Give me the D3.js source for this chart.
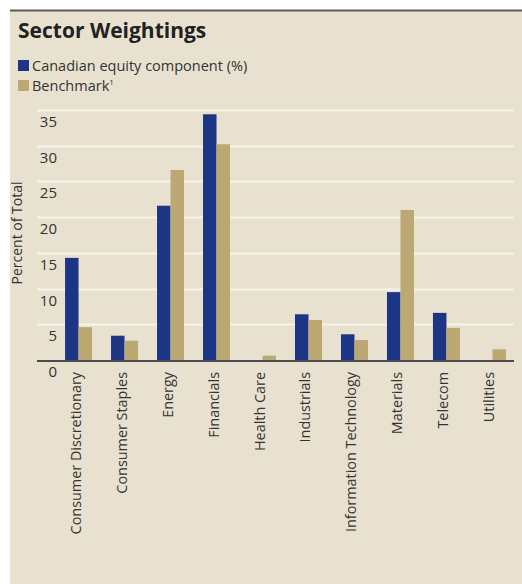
<!DOCTYPE html>
<html>
<head>
<meta charset="utf-8">
<script src="https://cdn.jsdelivr.net/npm/d3@7"></script>
<style>
  html, body { margin: 0; padding: 0; background: #ffffff; }
  svg { display: block; }
</style>
</head>
<body>
<svg id="chart" width="522" height="584"></svg>
<script>
// Sector weightings: fund vs benchmark, percent of total
const sectors = [
  "Consumer Discretionary", "Consumer Staples", "Energy", "Financials",
  "Health Care", "Industrials", "Information Technology", "Materials",
  "Telecom", "Utilities"
];
const canadianEquity = [14.3, 3.4, 21.6, 34.4, 0, 6.4, 3.6, 9.5, 6.6, 0];
const benchmark = [4.6, 2.7, 26.6, 30.2, 0.6, 5.6, 2.8, 21.0, 4.5, 1.5];
const yTicks = [0, 5, 10, 15, 20, 25, 30, 35];
const seriesNames = ["Canadian equity component (%)", "Benchmark"];
const seriesColors = ["#1c3584", "#bca873"];

const FONT = "'Open Sans', 'DejaVu Sans', sans-serif";
const TEXT = "#333333";

const svg = d3.select("#chart");

// panel background and top rule
svg.append("rect").attr("x", 10).attr("y", 10).attr("width", 512).attr("height", 574)
  .attr("fill", "#e8e1cf");
svg.append("rect").attr("x", 10).attr("y", 9.5).attr("width", 512).attr("height", 2)
  .attr("fill", "#5a5a5a");

// title
svg.append("text").attr("x", 18).attr("y", 38)
  .attr("font-family", FONT).attr("font-weight", 700).attr("font-size", 21)
  .attr("fill", "#222").text("Sector Weightings");

// legend
const legend = svg.append("g");
seriesNames.forEach((name, i) => {
  const gy = 60 + i * 20;
  legend.append("rect").attr("x", 18).attr("y", gy).attr("width", 11).attr("height", 11)
    .attr("fill", seriesColors[i]);
  const t = legend.append("text").attr("x", 32).attr("y", gy + 11)
    .attr("font-family", FONT).attr("font-size", 14.5).attr("fill", TEXT).text(name);
  if (i === 1) {
    t.append("tspan").attr("font-size", 8).attr("dy", -6).text("1");
  }
});

// scales
const plotLeft = 37, plotRight = 514;
const y = d3.scaleLinear().domain([0, 35]).range([360, 110]);
const x0 = d3.scaleBand().domain(sectors).range([37, 534])
  .paddingInner(0.413).paddingOuter(0.61);
const x1 = d3.scaleBand().domain([0, 1]).range([0, x0.bandwidth()]);

// gridlines
svg.append("g").selectAll("line").data(yTicks.filter(d => d > 0)).join("line")
  .attr("x1", plotLeft).attr("x2", plotRight)
  .attr("y1", d => Math.round(y(d)) + 0.5).attr("y2", d => Math.round(y(d)) + 0.5)
  .attr("stroke", "#f7f4ec").attr("stroke-width", 2);

// y tick labels sit just under their gridline
svg.append("g").selectAll("text").data(yTicks).join("text")
  .attr("x", 57).attr("y", d => y(d) + 17)
  .attr("text-anchor", "end")
  .attr("font-family", FONT).attr("font-size", 15).attr("fill", TEXT)
  .text(d => d);

// y axis title
svg.append("text")
  .attr("transform", "translate(22,233) rotate(-90)")
  .attr("text-anchor", "middle")
  .attr("font-family", FONT).attr("font-size", 14).attr("fill", TEXT)
  .text("Percent of Total");

// bars
const series = [canadianEquity, benchmark];
const groups = svg.append("g").selectAll("g").data(sectors).join("g")
  .attr("transform", d => `translate(${x0(d)},0)`);
groups.selectAll("rect")
  .data((d, i) => series.map((s, k) => ({ k, v: s[i] })))
  .join("rect")
  .attr("x", d => x1(d.k))
  .attr("width", x1.bandwidth())
  .attr("y", d => y(d.v))
  .attr("height", d => y(0) - y(d.v))
  .attr("fill", d => seriesColors[d.k]);

// baseline
svg.append("line").attr("x1", plotLeft).attr("x2", plotRight)
  .attr("y1", 361).attr("y2", 361)
  .attr("stroke", "#4a4a4a").attr("stroke-width", 2);

// category labels, rotated
svg.append("g").selectAll("text").data(sectors).join("text")
  .attr("transform", d => `translate(${x0(d) + x0.bandwidth() / 2 + 2},372) rotate(-90)`)
  .attr("text-anchor", "end")
  .attr("font-family", FONT).attr("font-size", 14.4).attr("fill", TEXT)
  .text(d => d);
</script>
</body>
</html>
